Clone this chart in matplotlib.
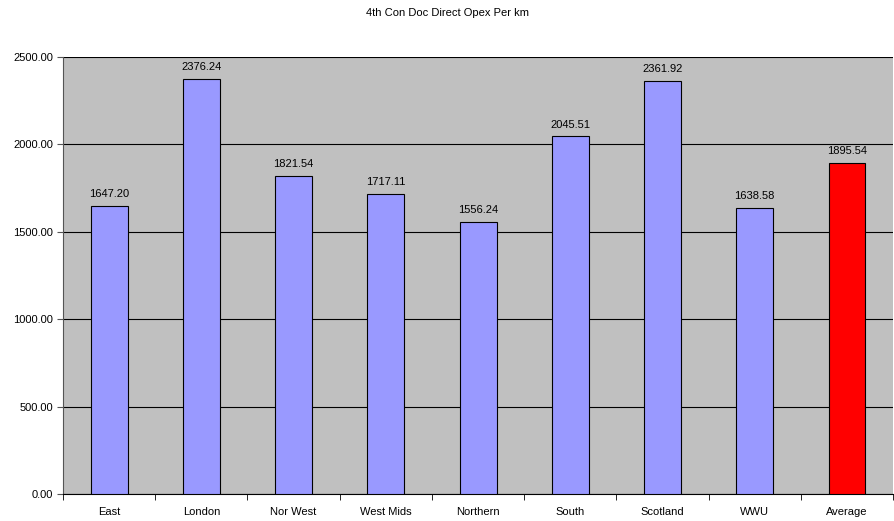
import matplotlib
matplotlib.use("Agg")
import matplotlib.pyplot as plt
import numpy as np

regions = ["East", "London", "Nor West", "West Mids", "Northern", "South", "Scotland", "WWU", "Average"]
opex_per_km = [1647.20, 2376.24, 1821.54, 1717.11, 1556.24, 2045.51, 2361.92, 1638.58, 1895.54]
y_ticks = [0, 500, 1000, 1500, 2000, 2500]

plt.rcParams["font.family"] = ["Liberation Sans", "DejaVu Sans"]

fig = plt.figure(figsize=(8.94, 5.21), dpi=100)
ax = fig.add_axes([0.0705, 0.0518, 0.9285, 0.8388])
ax.set_facecolor("#C0C0C0")

x = np.arange(len(regions))
colors = ["#9999FF"] * (len(regions) - 1) + ["#FF0000"]
ax.bar(x, opex_per_km, width=0.4, color=colors, edgecolor="#000000", linewidth=0.8, zorder=3)

for xi, v in zip(x, opex_per_km):
    ax.text(xi, v + 38, f"{v:.2f}", ha="center", va="bottom", fontsize=8, color="#000000", zorder=4)

ax.set_xlim(-0.5, len(regions) - 0.5)
ax.set_ylim(0, 2500)
ax.set_yticks(y_ticks)
ax.set_yticklabels([f"{t:.2f}" for t in y_ticks], fontsize=8)
ax.yaxis.grid(True, color="#000000", linewidth=0.8, zorder=1)

ax.set_xticks(x)
ax.set_xticklabels(regions, fontsize=8)
ax.tick_params(axis="x", length=0, pad=9)
ax.set_xticks(np.arange(len(regions) + 1) - 0.5, minor=True)
ax.tick_params(axis="x", which="minor", length=4, direction="out", color="#000000")
ax.tick_params(axis="y", length=4, direction="out", color="#555555", pad=3)

for side in ["top", "right"]:
    ax.spines[side].set_visible(False)
ax.spines["left"].set_color("#555555")
ax.spines["bottom"].set_color("#000000")

fig.suptitle("4th Con Doc Direct Opex Per km", y=0.985, fontsize=8)

fig.savefig("out.png", dpi=100)
